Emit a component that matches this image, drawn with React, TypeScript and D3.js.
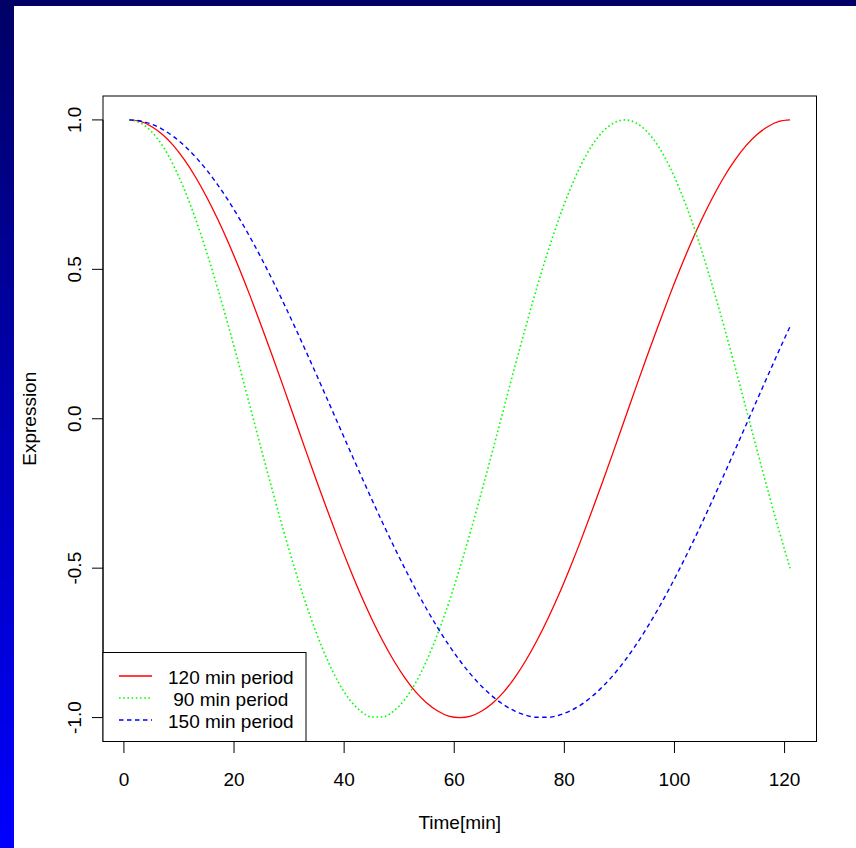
import React from "react";
import * as d3 from "d3";

const timeMin = [1, 3, 5, 7, 9, 11, 13, 15, 17, 19, 21, 23, 25, 27, 29, 31, 33, 35, 37, 39, 41, 43, 45, 47, 49, 51, 53, 55, 57, 59, 61, 63, 65, 67, 69, 71, 73, 75, 77, 79, 81, 83, 85, 87, 89, 91, 93, 95, 97, 99, 101, 103, 105, 107, 109, 111, 113, 115, 117, 119, 121];

const period120 = [1, 0.995, 0.978, 0.951, 0.914, 0.866, 0.809, 0.743, 0.669, 0.588, 0.5, 0.407, 0.309, 0.208, 0.105, 0, -0.105, -0.208, -0.309, -0.407, -0.5, -0.588, -0.669, -0.743, -0.809, -0.866, -0.914, -0.951, -0.978, -0.995, -1, -0.995, -0.978, -0.951, -0.914, -0.866, -0.809, -0.743, -0.669, -0.588, -0.5, -0.407, -0.309, -0.208, -0.105, 0, 0.105, 0.208, 0.309, 0.407, 0.5, 0.588, 0.669, 0.743, 0.809, 0.866, 0.914, 0.951, 0.978, 0.995, 1];

const period90 = [1, 0.99, 0.961, 0.914, 0.848, 0.766, 0.669, 0.559, 0.438, 0.309, 0.174, 0.035, -0.105, -0.242, -0.375, -0.5, -0.616, -0.719, -0.809, -0.883, -0.94, -0.978, -0.998, -0.998, -0.978, -0.94, -0.883, -0.809, -0.719, -0.616, -0.5, -0.375, -0.242, -0.105, 0.035, 0.174, 0.309, 0.438, 0.559, 0.669, 0.766, 0.848, 0.914, 0.961, 0.99, 1, 0.99, 0.961, 0.914, 0.848, 0.766, 0.669, 0.559, 0.438, 0.309, 0.174, 0.035, -0.105, -0.242, -0.375, -0.5];

const period150 = [1, 0.9965, 0.986, 0.9686, 0.9444, 0.9135, 0.8763, 0.8329, 0.7837, 0.729, 0.6691, 0.6046, 0.5358, 0.4633, 0.3875, 0.309, 0.2284, 0.1461, 0.0628, -0.0209, -0.1045, -0.1874, -0.2689, -0.3486, -0.4258, -0.5, -0.5707, -0.6374, -0.6997, -0.757, -0.809, -0.8554, -0.8957, -0.9298, -0.9573, -0.9781, -0.9921, -0.9991, -0.9991, -0.9921, -0.9781, -0.9573, -0.9298, -0.8957, -0.8554, -0.809, -0.757, -0.6997, -0.6374, -0.5707, -0.5, -0.4258, -0.3486, -0.2689, -0.1874, -0.1045, -0.0209, 0.0628, 0.1461, 0.2284, 0.309];

const xTicks = [0, 20, 40, 60, 80, 100, 120];
const yTicks = [-1.0, -0.5, 0.0, 0.5, 1.0];

const seriesNames = ["120 min period", " 90 min period", "150 min period"];
const seriesColors = ["#ff0000", "#00ff00", "#0000ff"];
const seriesDash = ["none", "1.6,2.6", "4.5,3.5"];
const seriesWidth = [1.3, 1.6, 1.4];
const seriesValues = [period120, period90, period150];

const W = 856;
const H = 848;
const left = 103;
const right = 816.5;
const top = 96;
const bottom = 741.5;
const FONT = "'Liberation Sans', Arial, Helvetica, sans-serif";

export default function App() {
  const xMin = d3.min(timeMin)!;
  const xMax = d3.max(timeMin)!;
  const xPad = (xMax - xMin) * 0.04;
  const x = d3.scaleLinear().domain([xMin - xPad, xMax + xPad]).range([left, right]);
  const y = d3.scaleLinear().domain([-1.08, 1.08]).range([bottom, top]);

  const line = d3
    .line<number>()
    .x((_, i) => x(timeMin[i]))
    .y((d) => y(d))
    .curve(d3.curveMonotoneX);

  const legendTop = 652.5;
  const legendRight = 306;
  const rowY = [676, 698, 720];

  return (
    <svg
      width={W}
      height={H}
      style={{ position: "fixed", left: 0, top: 0, display: "block" }}
      fontFamily={FONT}
    >
      <defs>
        <linearGradient id="sideGrad" x1="0" y1="0" x2="0" y2="1">
          <stop offset="0" stopColor="#000066" />
          <stop offset="1" stopColor="#0000ff" />
        </linearGradient>
      </defs>
      <rect x={0} y={0} width={W} height={H} fill="#ffffff" />
      <rect x={0} y={0} width={14} height={H} fill="url(#sideGrad)" />
      <rect x={0} y={0} width={W} height={6} fill="#000066" />

      {seriesValues.map((vals, i) => (
        <path
          key={i}
          d={line(vals) || ""}
          fill="none"
          stroke={seriesColors[i]}
          strokeWidth={seriesWidth[i]}
          strokeDasharray={seriesDash[i]}
        />
      ))}

      {/* plot box */}
      <rect x={left} y={top} width={right - left} height={bottom - top} fill="none" stroke="#000" strokeWidth={1} />

      {/* x axis */}
      <line x1={x(xTicks[0])} x2={x(xTicks[xTicks.length - 1])} y1={bottom} y2={bottom} stroke="#000" />
      {xTicks.map((t) => (
        <g key={t}>
          <line x1={x(t)} x2={x(t)} y1={bottom} y2={bottom + 11.5} stroke="#000" />
          <text x={x(t)} y={785.5} fontSize={19} textAnchor="middle" fill="#000">
            {t}
          </text>
        </g>
      ))}
      <text x={(left + right) / 2} y={829} fontSize={19} textAnchor="middle" fill="#000">
        Time[min]
      </text>

      {/* y axis */}
      <line x1={left} x2={left} y1={y(-1)} y2={y(1)} stroke="#000" />
      {yTicks.map((t) => (
        <g key={t}>
          <line x1={left} x2={left - 11} y1={y(t)} y2={y(t)} stroke="#000" />
          <text
            transform={`translate(81,${y(t)}) rotate(-90)`}
            fontSize={19}
            textAnchor="middle"
            fill="#000"
          >
            {t.toFixed(1)}
          </text>
        </g>
      ))}
      <text
        transform={`translate(35.5,${(top + bottom) / 2}) rotate(-90)`}
        fontSize={19}
        textAnchor="middle"
        fill="#000"
      >
        Expression
      </text>

      {/* legend */}
      <rect
        x={left}
        y={legendTop}
        width={legendRight - left}
        height={bottom - legendTop}
        fill="#ffffff"
        stroke="#000"
        strokeWidth={1}
      />
      {seriesNames.map((name, i) => (
        <g key={name}>
          <line
            x1={119}
            x2={152}
            y1={rowY[i]}
            y2={rowY[i]}
            stroke={seriesColors[i]}
            strokeWidth={seriesWidth[i]}
            strokeDasharray={seriesDash[i]}
          />
          <text x={168} y={rowY[i] + 8} fontSize={19} fill="#000" style={{ whiteSpace: "pre" }}>
            {name}
          </text>
        </g>
      ))}
    </svg>
  );
}
